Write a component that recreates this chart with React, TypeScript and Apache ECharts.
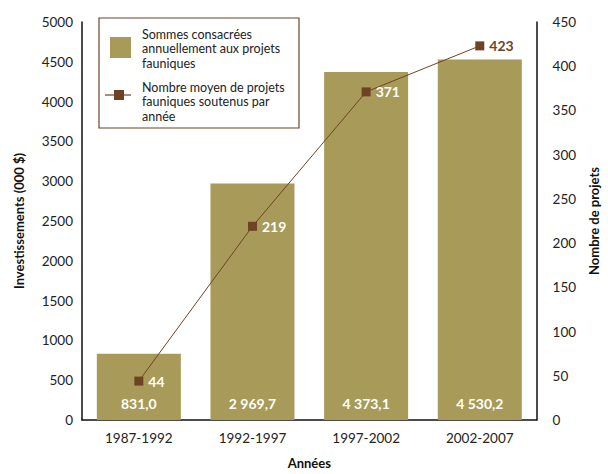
import React, { useEffect, useRef } from "react";
import * as echarts from "echarts";

const categories = ["1987-1992", "1992-1997", "1997-2002", "2002-2007"];
const sommes = [831.0, 2969.7, 4373.1, 4530.2];
const nombreProjets = [44, 219, 371, 423];
const sommesLabels = ["831,0", "2 969,7", "4 373,1", "4 530,2"];
const legendBar = ["Sommes consacrées", "annuellement aux projets", "fauniques"];
const legendLine = ["Nombre moyen de projets", "fauniques soutenus par", "année"];

const BAR = "#A89A58";
const BROWN = "#6E4325";
const FONT = "Lato";

export default function App() {
  const ref = useRef<HTMLDivElement>(null);
  useEffect(() => {
    if (!ref.current) return;
    const chart = echarts.init(ref.current, undefined, { renderer: "svg" });
    const legendText = (lines: string[], y0: number) =>
      lines.map((t, i) => ({
        type: "text",
        x: 142,
        y: y0 + i * 14.5,
        style: { text: t, fontSize: 12.5, fill: "#222", fontFamily: FONT, textVerticalAlign: "middle" },
        z: 101,
      }));
    chart.setOption({
      animation: false,
      textStyle: { fontFamily: FONT },
      grid: { left: 82, right: 62, top: 22, bottom: 51 },
      xAxis: {
        type: "category",
        data: categories,
        name: "Années",
        nameLocation: "middle",
        nameGap: 36,
        nameTextStyle: { fontWeight: "bold", fontSize: 13, color: "#111", fontFamily: FONT },
        axisLine: { lineStyle: { color: "#111", width: 1.5 } },
        axisTick: { show: false },
        axisLabel: { fontSize: 13.5, color: "#222", margin: 11, fontFamily: FONT },
      },
      yAxis: [
        {
          type: "value",
          min: 0,
          max: 5000,
          interval: 500,
          name: "Investissements (000 $)",
          nameLocation: "middle",
          nameGap: 57,
          nameTextStyle: { fontWeight: "bold", fontSize: 13, color: "#111", fontFamily: FONT },
          axisLine: { show: true, lineStyle: { color: "#111", width: 1.5 } },
          axisTick: { show: false },
          splitLine: { show: false },
          axisLabel: { fontSize: 13.5, color: "#222", margin: 9, fontFamily: FONT, formatter: (v: number) => String(v) },
        },
        {
          type: "value",
          min: 0,
          max: 450,
          interval: 50,
          name: "Nombre de projets",
          nameLocation: "middle",
          nameGap: 48,
          nameRotate: 90,
          nameTextStyle: { fontWeight: "bold", fontSize: 13, color: "#111", fontFamily: FONT },
          axisLine: { show: true, lineStyle: { color: "#111", width: 1.5 } },
          axisTick: { show: false },
          splitLine: { show: false },
          axisLabel: { fontSize: 13.5, color: "#222", margin: 16, fontFamily: FONT, formatter: (v: number) => String(v) },
        },
      ],
      series: [
        {
          type: "bar",
          name: "Sommes consacrées annuellement aux projets fauniques",
          data: sommes,
          yAxisIndex: 0,
          barWidth: 84,
          itemStyle: { color: BAR },
          label: {
            show: true,
            position: "insideBottom",
            distance: 10,
            color: "#fff",
            fontWeight: "bold",
            fontSize: 14,
            fontFamily: FONT,
            formatter: (p: any) => sommesLabels[p.dataIndex],
          },
        },
        {
          type: "line",
          name: "Nombre moyen de projets fauniques soutenus par année",
          data: nombreProjets.map((v, i) => ({
            value: v,
            label: { color: i === nombreProjets.length - 1 ? BROWN : "#fff" },
          })),
          yAxisIndex: 1,
          symbol: "rect",
          symbolSize: 9,
          lineStyle: { color: BROWN, width: 1 },
          itemStyle: { color: BROWN },
          label: {
            show: true,
            position: "right",
            distance: 5,
            fontWeight: "bold",
            fontSize: 14,
            fontFamily: FONT,
          },
        },
      ],
      graphic: [
        {
          type: "rect",
          shape: { x: 99, y: 18, width: 200, height: 110 },
          style: { fill: "#fff", stroke: BROWN, lineWidth: 1.2 },
          z: 100,
        },
        {
          type: "rect",
          shape: { x: 110, y: 37, width: 21, height: 21 },
          style: { fill: BAR },
          z: 101,
        },
        {
          type: "line",
          shape: { x1: 105, y1: 95, x2: 131, y2: 95 },
          style: { stroke: BROWN, lineWidth: 1.2 },
          z: 101,
        },
        {
          type: "rect",
          shape: { x: 114, y: 90, width: 10, height: 10 },
          style: { fill: BROWN },
          z: 102,
        },
        ...legendText(legendBar, 34),
        ...legendText(legendLine, 87),
      ],
    });
    return () => chart.dispose();
  }, []);
  return <div ref={ref} style={{ position: "absolute", left: 0, top: 0, width: 608, height: 474 }} />;
}
